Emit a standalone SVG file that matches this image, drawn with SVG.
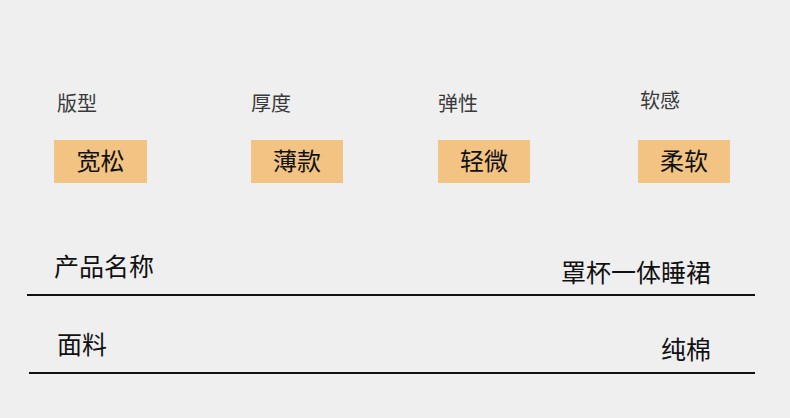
<svg xmlns="http://www.w3.org/2000/svg" width="790" height="418" viewBox="0 0 790 418">
<style>
.h{font-family:"Noto Sans CJK SC",sans-serif;font-size:20px;fill:#3a3a3a}
.b{fill:#f2c382}
.t{font-family:"Noto Sans CJK SC",sans-serif;font-size:24px;fill:#111;text-anchor:middle}
.r{font-family:"Noto Sans CJK SC",sans-serif;font-size:25px;fill:#111}
.l{stroke:#111;stroke-width:2}
</style>
<rect width="790" height="418" fill="#efefef"/>
<g id="banxing"><text class="h" x="57" y="111">版型</text><rect class="b" x="54" y="140" width="93" height="43"/><text class="t" x="100.5" y="170">宽松</text></g>
<g id="houdu"><text class="h" x="251" y="111">厚度</text><rect class="b" x="251" y="140" width="92" height="43"/><text class="t" x="297" y="170">薄款</text></g>
<g id="tanxing"><text class="h" x="438" y="111">弹性</text><rect class="b" x="438" y="140" width="92" height="43"/><text class="t" x="484" y="170">轻微</text></g>
<g id="ruangan"><text class="h" x="640" y="108">软感</text><rect class="b" x="638" y="140" width="92" height="43"/><text class="t" x="684" y="170">柔软</text></g>
<g id="name"><text class="r" x="54" y="276">产品名称</text><text class="r" x="711" y="282" text-anchor="end">罩杯一体睡裙</text><line class="l" x1="27" y1="295" x2="755" y2="295"/></g>
<g id="fabric"><text class="r" x="57" y="354">面料</text><text class="r" x="711" y="359" text-anchor="end">纯棉</text><line class="l" x1="29" y1="373" x2="755" y2="373"/></g>
</svg>
